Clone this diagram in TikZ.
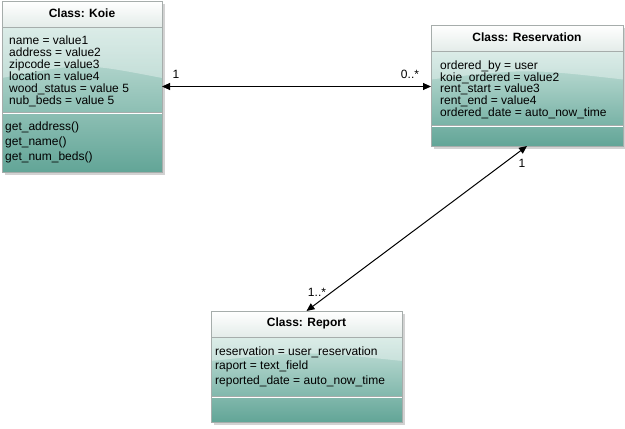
\documentclass[tikz,border=0pt]{standalone}
\usepackage{fontspec}
\setmainfont{Liberation Sans}
\usetikzlibrary{arrows.meta}
\definecolor{bodytop}{HTML}{C9E3DC}
\definecolor{bodybot}{HTML}{62A597}
\definecolor{headbot}{HTML}{E4ECE9}
\definecolor{shadowc}{HTML}{D2D2D2}
\definecolor{framec}{HTML}{A6ADAB}
\newcommand\classbg[6]{%
  \fill[shadowc] (#1+3,#2+3) rectangle (#3+3,#4+3);
  \shade[top color=bodytop,bottom color=bodybot] (#1,#5) rectangle (#3,#4);
  \shade[top color=white,bottom color=headbot] (#1,#2) rectangle (#3,#5);
  \pgfmathsetmacro\glsz{0.45*(#4-#2)}
  \fill[white,fill opacity=0.35] (#1,#5) -- (#1,#2+\glsz)
     .. controls ({(#1+#3)/2},{#2+0.8*\glsz}) .. (#3,#2+\glsz) -- (#3,#5) -- cycle;
  \draw[framec,line width=1pt] (#1,#5) -- (#3,#5);
  \draw[white,line width=1pt] (#1,#6+0.5) -- (#3,#6+0.5);
  \draw[framec,line width=0.8pt] (#1,#6-0.6) -- (#3,#6-0.6);
}
\tikzset{
  classframe/.style={draw=framec,line width=1pt,rectangle,inner sep=0pt,outer sep=0pt,anchor=north west},
  headtext/.style={font=\fontsize{12}{12}\selectfont\bfseries,inner sep=0pt},
  attrtext/.style={anchor=north west,align=left,inner sep=0pt,font=\fontsize{12}{12}\selectfont},
  multlabel/.style={font=\fontsize{12}{12}\selectfont,inner sep=0pt},
  assoc/.style={draw=black,line width=1pt,{Triangle[length=8pt,width=7pt]}-{Triangle[length=8pt,width=7pt]}}
}
\begin{document}
\begin{tikzpicture}[x=1pt,y=-1pt]
\useasboundingbox (0,0) rectangle (625,429);
% Koie
\classbg{2}{1}{162}{172}{27}{113}
\node[classframe,minimum width=160pt,minimum height=171pt] (koie) at (2,1) {};
\node[headtext] (koiehead) at (82,13) {Class: Koie};
\node[attrtext] (koieattrs) at (9,36) {name = value1\\address = value2\\zipcode = value3\\location = value4\\wood\_status = value 5\\nub\_beds = value 5};
\node[attrtext,font=\fontsize{12}{15}\selectfont] (koieops) at (5,122) {get\_address()\\get\_name()\\get\_num\_beds()};
% Reservation
\classbg{431}{25}{623}{146}{51}{126}
\node[classframe,minimum width=192pt,minimum height=121pt] (res) at (431,25) {};
\node[headtext] (reshead) at (527,37) {Class: Reservation};
\node[attrtext,font=\fontsize{12}{11.8}\selectfont] (resattrs) at (440,60.5) {ordered\_by = user\\koie\_ordered = value2\\rent\_start = value3\\rent\_end = value4\\ordered\_date = auto\_now\_time};
% Report
\classbg{211}{311}{402}{422}{337}{397}
\node[classframe,minimum width=191pt,minimum height=111pt] (rep) at (211,311) {};
\node[headtext] (rephead) at (306.5,323) {Class: Report};
\node[attrtext,font=\fontsize{12}{14.5}\selectfont] (repattrs) at (215,346.5) {reservation = user\_reservation\\raport = text\_field\\reported\_date = auto\_now\_time};
% associations
\draw[assoc] (koie.east) -- (koie.east -| res.west);
\draw[assoc] (res.south) -- (rep.north);
\node[multlabel] (m1) at (176,74) {1};
\node[multlabel] (m2) at (410,74) {0..*};
\node[multlabel] (m3) at (522,163) {1};
\node[multlabel] (m4) at (317,292) {1..*};
\end{tikzpicture}
\end{document}
